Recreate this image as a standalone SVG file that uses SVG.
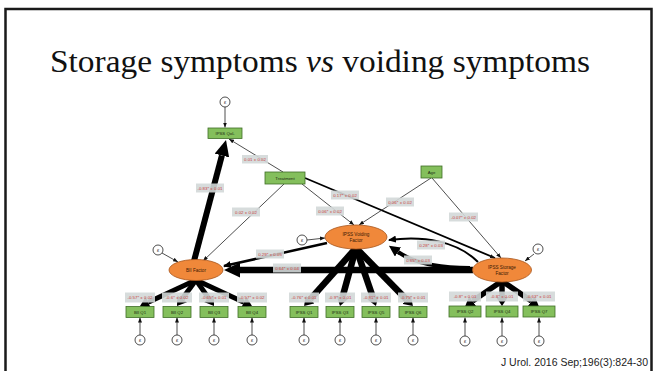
<svg xmlns="http://www.w3.org/2000/svg" width="656" height="371" viewBox="0 0 656 371">
<style>
.box{fill:#84bf5c;stroke:#3f6e27;stroke-width:0.8}
.fac{fill:#f0883a;stroke:#a8561c;stroke-width:0.8}
.err{fill:#fff;stroke:#222;stroke-width:0.8}
.bt{font-family:"Liberation Sans",Arial,sans-serif;font-size:4.3px;fill:#1d2a12;text-anchor:middle}
.ft{font-family:"Liberation Sans",Arial,sans-serif;font-size:4.6px;fill:#3a1a05;text-anchor:middle}
.et{font-family:"DejaVu Sans",sans-serif;font-size:5px;fill:#222;text-anchor:middle}
.lb{fill:#d3d8d8;opacity:0.9}
.lt{font-family:"Liberation Sans",Arial,sans-serif;font-size:4.4px;fill:#c8423c;text-anchor:middle}
.thin{stroke:#222;stroke-width:0.8;fill:none}
.thick{stroke:#000;fill:none}
</style>
<defs>
<marker id="aS" markerUnits="userSpaceOnUse" viewBox="0 0 5 4" markerWidth="5" markerHeight="4" refX="5" refY="2" orient="auto"><path d="M0,0 L5,2 L0,4z" fill="#111"/></marker>
<marker id="aM" markerUnits="userSpaceOnUse" viewBox="0 0 8 7" markerWidth="8" markerHeight="7" refX="7" refY="3.5" orient="auto"><path d="M0,0 L8,3.5 L0,7z" fill="#000"/></marker>
<marker id="aB" markerUnits="userSpaceOnUse" viewBox="0 0 9 12" markerWidth="9" markerHeight="12" refX="0" refY="6" orient="auto"><path d="M0,0 L9,6 L0,12z" fill="#000"/></marker>
<marker id="aL" markerUnits="userSpaceOnUse" viewBox="0 0 16 15" markerWidth="16" markerHeight="15" refX="0" refY="7.5" orient="auto"><path d="M0,0 L16,7.5 L0,15z" fill="#000"/></marker>
<marker id="aC" markerUnits="userSpaceOnUse" viewBox="0 0 11 11" markerWidth="11" markerHeight="11" refX="0" refY="5.5" orient="auto"><path d="M0,0 L11,5.5 L0,11z" fill="#000"/></marker>
</defs>
<rect x="0" y="0" width="656" height="371" fill="#fff"/>
<path d="M5.5,375 V9 H651.5 V375" fill="none" stroke="#1a1a1a" stroke-width="2.5"/>
<text x="50" y="72" font-family="'Liberation Serif','DejaVu Serif',serif" font-size="32" fill="#111" textLength="540" lengthAdjust="spacingAndGlyphs">Storage symptoms <tspan font-style="italic">vs</tspan> voiding symptoms</text>
<text x="648" y="366" font-family="'Liberation Sans',Arial,sans-serif" font-size="10.5" fill="#222" text-anchor="end">J Urol. 2016 Sep;196(3):824-30</text>

<g id="connectors">
<line class="thin" x1="225" y1="107" x2="225" y2="127.5" marker-end="url(#aS)"/>
<line class="thin" x1="283" y1="172" x2="229" y2="139" marker-end="url(#aS)"/>
<line class="thin" x1="284" y1="184" x2="203" y2="261" marker-end="url(#aS)"/>
<line class="thin" x1="302" y1="184" x2="354" y2="225" marker-end="url(#aS)"/>
<line class="thick" stroke-width="1.8" x1="305" y1="178" x2="495" y2="258" marker-end="url(#aS)"/>
<line class="thin" x1="431" y1="178" x2="359" y2="225" marker-end="url(#aS)"/>
<line class="thin" x1="432" y1="178" x2="501" y2="258" marker-end="url(#aS)"/>
<line class="thin" x1="162" y1="253" x2="178" y2="262" marker-end="url(#aS)"/>
<line class="thin" x1="307" y1="240" x2="325" y2="238" marker-end="url(#aS)"/>
<line class="thin" x1="534" y1="254" x2="525" y2="261" marker-end="url(#aS)"/>
<line class="thick" stroke-width="6" x1="194" y1="261" x2="221.9" y2="155.5" marker-end="url(#aL)"/>
<line class="thick" stroke-width="6.5" x1="473" y1="270" x2="240" y2="270" marker-end="url(#aL)"/>
<line class="thick" stroke-width="2.5" x1="327" y1="243" x2="224" y2="266" marker-end="url(#aM)"/>
<path class="thick" stroke-width="2" d="M478,262 C458,242 425,235 389,240" marker-end="url(#aM)"/>
<path class="thick" stroke-width="4" d="M470,268 C440,268 414,263 398,252" marker-end="url(#aC)"/>
<g stroke-width="5">
<line class="thick" x1="196" y1="280" x2="148.2" y2="302.2" marker-end="url(#aB)"/>
<line class="thick" x1="196" y1="280" x2="182.3" y2="298.7" marker-end="url(#aB)"/>
<line class="thick" x1="196" y1="280" x2="208.9" y2="298.6" marker-end="url(#aB)"/>
<line class="thick" x1="196" y1="280" x2="243.8" y2="302.2" marker-end="url(#aB)"/>
</g>
<g stroke-width="6.5">
<line class="thick" x1="356" y1="248" x2="310.1" y2="299.4" marker-end="url(#aB)"/>
<line class="thick" x1="356" y1="248" x2="342.4" y2="297.3" marker-end="url(#aB)"/>
<line class="thick" x1="356" y1="248" x2="373" y2="297.5" marker-end="url(#aB)"/>
<line class="thick" x1="356" y1="248" x2="406.6" y2="299.6" marker-end="url(#aB)"/>
</g>
<g stroke-width="5.5">
<line class="thick" x1="502" y1="281" x2="472.6" y2="301.1" marker-end="url(#aB)"/>
<line class="thick" x1="502" y1="281" x2="502" y2="297" marker-end="url(#aB)"/>
<line class="thick" x1="502" y1="281" x2="531.4" y2="301.1" marker-end="url(#aB)"/>
</g>
<g>
<line class="thin" x1="140" y1="335" x2="140" y2="317.5" marker-end="url(#aS)"/>
<line class="thin" x1="177" y1="335" x2="177" y2="317.5" marker-end="url(#aS)"/>
<line class="thin" x1="214" y1="335" x2="214" y2="317.5" marker-end="url(#aS)"/>
<line class="thin" x1="252" y1="335" x2="252" y2="317.5" marker-end="url(#aS)"/>
<line class="thin" x1="304" y1="335" x2="304" y2="317.5" marker-end="url(#aS)"/>
<line class="thin" x1="340" y1="335" x2="340" y2="317.5" marker-end="url(#aS)"/>
<line class="thin" x1="376" y1="335" x2="376" y2="317.5" marker-end="url(#aS)"/>
<line class="thin" x1="413" y1="335" x2="413" y2="317.5" marker-end="url(#aS)"/>
<line class="thin" x1="465" y1="336" x2="465" y2="317.5" marker-end="url(#aS)"/>
<line class="thin" x1="502" y1="336" x2="502" y2="317.5" marker-end="url(#aS)"/>
<line class="thin" x1="539" y1="336" x2="539" y2="317.5" marker-end="url(#aS)"/>
</g>
</g>

<g id="labels">
<rect class="lb" x="242" y="155" width="26" height="8.5"/><text class="lt" x="255" y="160.8">0.01 ± 0.02</text>
<rect class="lb" x="196" y="183.5" width="28" height="9"/><text class="lt" x="210" y="189.6">-0.83* ± 0.01</text>
<rect class="lb" x="232" y="207.5" width="28" height="9"/><text class="lt" x="246" y="213.6">0.02 ± 0.02</text>
<rect class="lb" x="331" y="190.5" width="28" height="9"/><text class="lt" x="345" y="196.6">0.17* ± 0.02</text>
<rect class="lb" x="316" y="206.5" width="28" height="9"/><text class="lt" x="330" y="212.6">0.06* ± 0.02</text>
<rect class="lb" x="386" y="197.5" width="28" height="9"/><text class="lt" x="400" y="203.6">0.06* ± 0.02</text>
<rect class="lb" x="449" y="212.5" width="29" height="9"/><text class="lt" x="463.5" y="218.6">-0.07* ± 0.02</text>
<rect class="lb" x="256" y="249.5" width="28" height="9"/><text class="lt" x="270" y="255.6">0.29* ± 0.05</text>
<rect class="lb" x="273" y="263.5" width="28" height="9"/><text class="lt" x="287" y="269.6">0.64* ± 0.04</text>
<rect class="lb" x="417" y="240.5" width="28" height="9"/><text class="lt" x="431" y="246.6">0.28* ± 0.03</text>
<rect class="lb" x="404" y="255.5" width="28" height="9"/><text class="lt" x="418" y="261.6">0.65* ± 0.03</text>
<rect class="lb" x="125" y="292.5" width="30" height="10"/><text class="lt" x="140" y="299">-0.57* ± 0.02</text>
<rect class="lb" x="162" y="292.5" width="30" height="10"/><text class="lt" x="177" y="299">-0.6* ± 0.02</text>
<rect class="lb" x="199" y="292.5" width="30" height="10"/><text class="lt" x="214" y="299">-0.65* ± 0.01</text>
<rect class="lb" x="237" y="292.5" width="30" height="10"/><text class="lt" x="252" y="299">-0.57* ± 0.02</text>
<rect class="lb" x="289" y="292.5" width="30" height="10"/><text class="lt" x="304" y="299">-0.76* ± 0.01</text>
<rect class="lb" x="325" y="292.5" width="30" height="10"/><text class="lt" x="340" y="299">-0.9* ± 0.01</text>
<rect class="lb" x="361" y="292.5" width="30" height="10"/><text class="lt" x="376" y="299">-0.81* ± 0.01</text>
<rect class="lb" x="398" y="292.5" width="30" height="10"/><text class="lt" x="413" y="299">-0.75* ± 0.01</text>
<rect class="lb" x="449" y="291.5" width="32" height="10"/><text class="lt" x="465" y="298">-0.8* ± 0.01</text>
<rect class="lb" x="486" y="291.5" width="32" height="10"/><text class="lt" x="502" y="298">-0.8* ± 0.01</text>
<rect class="lb" x="523" y="291.5" width="32" height="10"/><text class="lt" x="539" y="298">-0.63* ± 0.01</text>
</g>

<g id="e-qol"><circle class="err" cx="225" cy="102" r="5"/><text class="et" x="225" y="103.8">ε</text></g>
<g id="ipss-qol"><rect class="box" x="208" y="128" width="34" height="10.5"/><text class="bt" x="225" y="134.8">IPSS QoL</text></g>
<g id="treatment"><rect class="box" x="265" y="172" width="40" height="12"/><text class="bt" x="285" y="179.5">Treatment</text></g>
<g id="age"><rect class="box" x="421" y="166" width="21" height="12"/><text class="bt" x="431.5" y="173.5">Age</text></g>

<g id="bii-factor"><ellipse class="fac" cx="196" cy="270" rx="27" ry="10.5"/><text class="ft" x="196" y="271.6">BII Factor</text></g>
<g id="e-bii"><circle class="err" cx="158" cy="250" r="5"/><text class="et" x="158" y="251.8">ε</text></g>
<g id="voiding-factor"><ellipse class="fac" cx="356" cy="237" rx="31" ry="12"/><text class="ft" x="356" y="235.5">IPSS Voiding</text><text class="ft" x="356" y="242">Factor</text></g>
<g id="e-voiding"><circle class="err" cx="302" cy="240" r="5"/><text class="et" x="302" y="241.8">ε</text></g>
<g id="storage-factor"><ellipse class="fac" cx="502" cy="270" rx="29.5" ry="12"/><text class="ft" x="502" y="268.5">IPSS Storage</text><text class="ft" x="502" y="275">Factor</text></g>
<g id="e-storage"><circle class="err" cx="538" cy="249" r="5"/><text class="et" x="538" y="250.8">ε</text></g>

<g id="bii-q1"><rect class="box" x="126" y="306.5" width="28" height="11"/><text class="bt" x="140" y="313.5">BII Q1</text></g>
<g id="bii-q2"><rect class="box" x="163" y="306.5" width="28" height="11"/><text class="bt" x="177" y="313.5">BII Q2</text></g>
<g id="bii-q3"><rect class="box" x="200" y="306.5" width="28" height="11"/><text class="bt" x="214" y="313.5">BII Q3</text></g>
<g id="bii-q4"><rect class="box" x="238" y="306.5" width="28" height="11"/><text class="bt" x="252" y="313.5">BII Q4</text></g>
<g id="ipss-q1"><rect class="box" x="290" y="306.5" width="28" height="11"/><text class="bt" x="304" y="313.5">IPSS Q1</text></g>
<g id="ipss-q3"><rect class="box" x="326" y="306.5" width="28" height="11"/><text class="bt" x="340" y="313.5">IPSS Q3</text></g>
<g id="ipss-q5"><rect class="box" x="362" y="306.5" width="28" height="11"/><text class="bt" x="376" y="313.5">IPSS Q5</text></g>
<g id="ipss-q6"><rect class="box" x="399" y="306.5" width="28" height="11"/><text class="bt" x="413" y="313.5">IPSS Q6</text></g>
<g id="ipss-q2"><rect class="box" x="449" y="306" width="32" height="11"/><text class="bt" x="465" y="313">IPSS Q2</text></g>
<g id="ipss-q4"><rect class="box" x="486" y="306" width="32" height="11"/><text class="bt" x="502" y="313">IPSS Q4</text></g>
<g id="ipss-q7"><rect class="box" x="523" y="306" width="32" height="11"/><text class="bt" x="539" y="313">IPSS Q7</text></g>

<g id="e-bii-q1"><circle class="err" cx="140" cy="340" r="5"/><text class="et" x="140" y="341.8">ε</text></g>
<g id="e-bii-q2"><circle class="err" cx="177" cy="340" r="5"/><text class="et" x="177" y="341.8">ε</text></g>
<g id="e-bii-q3"><circle class="err" cx="214" cy="340" r="5"/><text class="et" x="214" y="341.8">ε</text></g>
<g id="e-bii-q4"><circle class="err" cx="252" cy="340" r="5"/><text class="et" x="252" y="341.8">ε</text></g>
<g id="e-ipss-q1"><circle class="err" cx="304" cy="340" r="5"/><text class="et" x="304" y="341.8">ε</text></g>
<g id="e-ipss-q3"><circle class="err" cx="340" cy="340" r="5"/><text class="et" x="340" y="341.8">ε</text></g>
<g id="e-ipss-q5"><circle class="err" cx="376" cy="340" r="5"/><text class="et" x="376" y="341.8">ε</text></g>
<g id="e-ipss-q6"><circle class="err" cx="413" cy="340" r="5"/><text class="et" x="413" y="341.8">ε</text></g>
<g id="e-ipss-q2"><circle class="err" cx="465" cy="341" r="5"/><text class="et" x="465" y="342.8">ε</text></g>
<g id="e-ipss-q4"><circle class="err" cx="502" cy="341" r="5"/><text class="et" x="502" y="342.8">ε</text></g>
<g id="e-ipss-q7"><circle class="err" cx="539" cy="341" r="5"/><text class="et" x="539" y="342.8">ε</text></g>
</svg>
